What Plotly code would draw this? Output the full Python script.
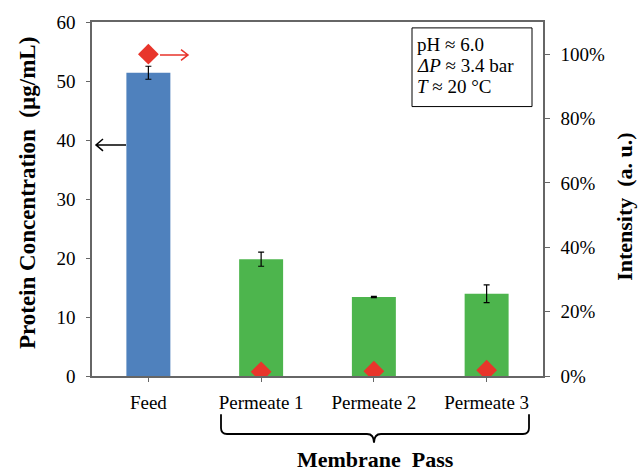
import plotly.graph_objects as go

categories = ["Feed", "Permeate 1", "Permeate 2", "Permeate 3"]
concentration = [51.4, 19.8, 13.4, 13.95]
conc_error = [1.1, 1.2, 0.1, 1.5]
intensity = [1.00, 0.013, 0.015, 0.018]
bar_colors = ["#4F81BD", "#4DB54D", "#4DB54D", "#4DB54D"]
info_lines = ["pH ≈ 6.0", "<i>ΔP</i> ≈ 3.4 bar", "<i>T</i> ≈ 20 °C"]

W, H = 639, 471
L, R, T, B = 92, 543, 16, 376
FONT = "Liberation Serif, Times New Roman, serif"
AXC = "#666666"
NB2 = "\u00a0\u00a0"


def px(x):
    return (x - L) / (R - L)


def py(y):
    return (B - y) / (B - T)


fig = go.Figure()
fig.add_trace(go.Bar(
    x=categories, y=concentration, marker=dict(color=bar_colors, line=dict(width=0)),
    error_y=dict(type="data", array=conc_error, color="black", thickness=1.2, width=3),
    showlegend=False, yaxis="y"))
fig.add_trace(go.Scatter(
    x=categories, y=intensity, mode="markers",
    marker=dict(symbol="diamond", size=16, color="#E8352B"),
    showlegend=False, yaxis="y2"))

fig.update_layout(
    width=W, height=H,
    margin=dict(l=L, r=W - R, t=T, b=H - B),
    paper_bgcolor="white", plot_bgcolor="white",
    bargap=0.61,
    font=dict(family=FONT, size=19, color="black"),
    xaxis=dict(showgrid=False, showline=True, linecolor=AXC, linewidth=1.5, mirror=True,
               ticks="outside", ticklen=4, tickcolor=AXC, tickfont=dict(size=19),
               ticklabelstandoff=4),
    yaxis=dict(range=[0, 60], dtick=10, showgrid=False, showline=True, linecolor=AXC,
               linewidth=1.5, ticks="outside", ticklen=4, tickcolor=AXC, zeroline=False,
               tickfont=dict(size=19), ticklabelstandoff=7),
    yaxis2=dict(range=[0, 1.1], tickvals=[0, 0.2, 0.4, 0.6, 0.8, 1.0], tickformat=".0%",
                overlaying="y", side="right", showgrid=False, showline=True, linecolor=AXC,
                linewidth=1.5, ticks="outside", ticklen=5, tickcolor=AXC, zeroline=False,
                tickfont=dict(size=19), ticklabelstandoff=7),
)

ann = []
ann.append(dict(x=px(27), y=py(190), xref="paper", yref="paper",
                text=f"<b>Protein Concentration{NB2}(µg/mL)</b>",
                textangle=-90, showarrow=False, font=dict(size=23), xanchor="center", yanchor="middle"))
ann.append(dict(x=px(625), y=py(204), xref="paper", yref="paper",
                text=f"<b>Intensity{NB2}(a. u.)</b>",
                textangle=-90, showarrow=False, font=dict(size=22), xanchor="center", yanchor="middle"))
ann.append(dict(x=px(375), y=py(461), xref="paper", yref="paper",
                text=f"<b>Membrane{NB2}Pass</b>",
                showarrow=False, font=dict(size=22), xanchor="center", yanchor="middle"))
for i, line in enumerate(info_lines):
    ann.append(dict(x=px(415), y=py(39 + 21.5 * i), xref="paper", yref="paper", text=line,
                    showarrow=False, align="left", xanchor="left", yanchor="middle",
                    font=dict(size=19)))
fig.update_layout(annotations=ann)

shapes = []
shapes.append(dict(type="rect", xref="paper", yref="paper", x0=px(412), x1=px(532),
                   y0=py(22), y1=py(102), line=dict(color="black", width=1), fillcolor="white",
                   layer="below"))
red = dict(color="#E8352B", width=1.5)
shapes.append(dict(type="path", xref="paper", yref="paper", line=red,
                   path=f"M{px(160)},{py(49.5)} L{px(188)},{py(49.5)} M{px(181)},{py(44)} L{px(188)},{py(49.5)} L{px(181)},{py(55)}"))
blk = dict(color="black", width=1.5)
shapes.append(dict(type="path", xref="paper", yref="paper", line=blk,
                   path=f"M{px(126)},{py(141)} L{px(96)},{py(141)} M{px(103)},{py(135)} L{px(96)},{py(141)} L{px(103)},{py(147)}"))
brace = (f"M{px(221)},{py(415)} L{px(221)},{py(429)} Q{px(221)},{py(435)} {px(227)},{py(435)} "
         f"L{px(367)},{py(435)} Q{px(374)},{py(435)} {px(374)},{py(444)} "
         f"Q{px(374)},{py(435)} {px(381)},{py(435)} L{px(523)},{py(435)} "
         f"Q{px(529)},{py(435)} {px(529)},{py(429)} L{px(529)},{py(415)}")
shapes.append(dict(type="path", xref="paper", yref="paper", line=dict(color="black", width=1.8), path=brace))
fig.update_layout(shapes=shapes)

fig.write_html("out.html")
